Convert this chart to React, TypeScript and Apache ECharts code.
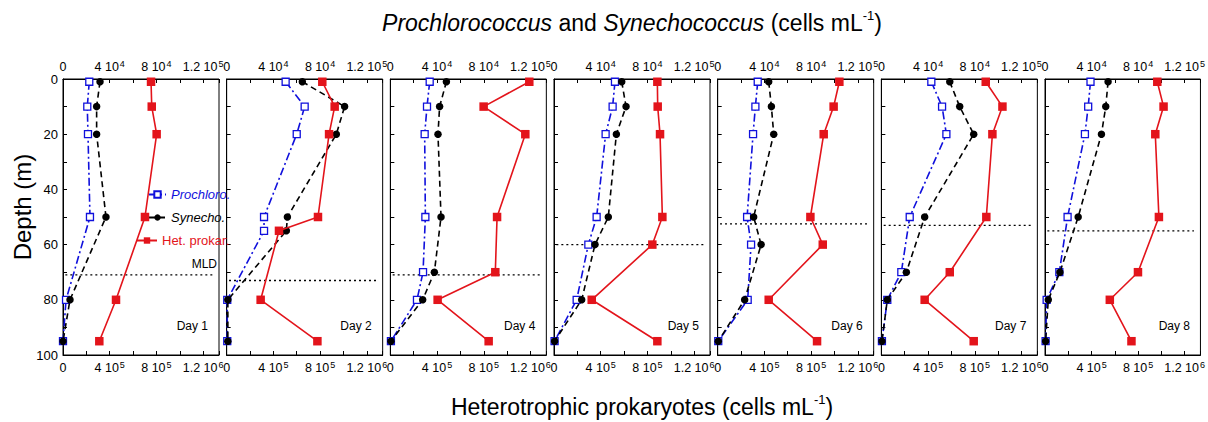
import React, { useEffect, useRef } from 'react';
import * as echarts from 'echarts';

// Panel names
const DAYS = ['Day 1', 'Day 2', 'Day 4', 'Day 5', 'Day 6', 'Day 7', 'Day 8'];

// Sampling depths (m) per day
const DEPTH_D1 = [1, 10, 20, 50, 80, 95];
const DEPTH_D2 = [1, 10, 20, 50, 55, 80, 95];
const DEPTH_D4 = [1, 10, 20, 50, 70, 80, 95];
const DEPTH_D5 = [1, 10, 20, 50, 60, 80, 95];
const DEPTH_D6 = [1, 10, 20, 50, 60, 80, 95];
const DEPTH_D7 = [1, 10, 20, 50, 70, 80, 95];
const DEPTH_D8 = [1, 10, 20, 50, 70, 80, 95];

// Prochlorococcus (x 10^4 cells/mL)
const PRO_D1 = [2.25, 2.08, 2.14, 2.31, 0.26, 0];
const PRO_D2 = [5.05, 6.68, 6.0, 3.2, 3.2, 0.05, 0.05];
const PRO_D4 = [3.37, 3.14, 2.94, 3.0, 2.8, 2.28, 0.05];
const PRO_D5 = [5.22, 5.02, 4.42, 3.65, 2.94, 1.94, 0.05];
const PRO_D6 = [3.43, 3.23, 3.03, 2.52, 2.86, 2.57, 0.05];
const PRO_D7 = [4.28, 5.2, 5.57, 2.43, 1.71, 0.51, 0.05];
const PRO_D8 = [3.91, 3.71, 3.43, 1.94, 1.23, 0.14, 0.05];

// Synechococcus (x 10^4 cells/mL)
const SYN_D1 = [3.17, 2.88, 2.88, 3.68, 0.6, 0];
const SYN_D2 = [6.48, 10.1, 9.39, 5.2, 5.11, 0.1, 0.1];
const SYN_D4 = [4.8, 4.22, 4.08, 4.34, 3.77, 2.77, 0.05];
const SYN_D5 = [5.8, 6.17, 5.34, 4.65, 3.51, 2.37, 0.05];
const SYN_D6 = [4.37, 4.6, 4.8, 3.08, 3.72, 2.31, 0.05];
const SYN_D7 = [5.86, 6.71, 7.91, 3.71, 2.14, 0.51, 0.05];
const SYN_D8 = [5.42, 5.22, 4.85, 2.85, 1.28, 0.28, 0.05];

// Heterotrophic prokaryotes (x 10^5 cells/mL)
const HET_D1 = [7.54, 7.6, 8.02, 7.02, 4.54, 3.11];
const HET_D2 = [8.19, 9.25, 8.77, 7.82, 4.48, 2.91, 7.77];
const HET_D4 = [11.9, 7.99, 11.56, 9.14, 8.99, 4.05, 8.42];
const HET_D5 = [8.85, 8.88, 9.08, 9.28, 8.42, 3.23, 8.85];
const HET_D6 = [10.42, 9.93, 9.08, 7.94, 9.0, 4.37, 8.51];
const HET_D7 = [8.94, 10.37, 9.51, 8.99, 5.86, 3.71, 7.91];
const HET_D8 = [9.65, 10.19, 9.48, 9.79, 7.99, 5.57, 7.43];

// Mixed layer depth (m) per day
const MLD = [71, 73, 71, 60, 52.5, 53, 55];

// Axis tick labels
const TOP_TICK_LABELS: Record<number, string> = { 0: '0', 4: '4 10{sup|4}', 8: '8 10{sup|4}', 12: '1.2 10{sup|5}' };
const BOTTOM_TICK_LABELS: Record<number, string> = { 0: '0', 4: '4 10{sup|5}', 8: '8 10{sup|5}', 12: '1.2 10{sup|6}' };

const DEPTHS = [DEPTH_D1, DEPTH_D2, DEPTH_D4, DEPTH_D5, DEPTH_D6, DEPTH_D7, DEPTH_D8];
const PRO = [PRO_D1, PRO_D2, PRO_D4, PRO_D5, PRO_D6, PRO_D7, PRO_D8];
const SYN = [SYN_D1, SYN_D2, SYN_D4, SYN_D5, SYN_D6, SYN_D7, SYN_D8];
const HET = [HET_D1, HET_D2, HET_D4, HET_D5, HET_D6, HET_D7, HET_D8];

const FONT = 'Liberation Sans, Arial, Helvetica, sans-serif';
const BLUE = '#1010dc';
const RED = '#e3141b';

export default function App() {
  const ref = useRef<HTMLDivElement>(null);
  useEffect(() => {
    document.body.style.margin = '0';
    const chart = echarts.init(ref.current!, undefined, { renderer: 'svg' });
    const n = DAYS.length;
    const gLeft = 63, gStep = 163.67, gW = 156, gTop = 79, gH = 276;
    const XMAX = 13.36;
    const supRich = { sup: { fontSize: 9, verticalAlign: 'top', fontFamily: FONT, color: '#000', padding: [0, 0, 0, 1] } };
    const grids: any[] = [], xAxes: any[] = [], yAxes: any[] = [], series: any[] = [], graphics: any[] = [];
    const commonAxis = {
      axisLine: { show: true, onZero: false, lineStyle: { color: '#000', width: 1 } },
      axisTick: { show: true, inside: true, length: 4, lineStyle: { color: '#000', width: 1 } },
      splitLine: { show: false },
    };
    for (let i = 0; i < n; i++) {
      const left = gLeft + i * gStep;
      grids.push({ left, top: gTop, width: gW, height: gH, show: true, borderColor: '#000', borderWidth: 1, backgroundColor: 'transparent' });
      xAxes.push({
        ...commonAxis, gridIndex: i, type: 'value', position: 'top', min: 0, max: XMAX, interval: 2,
        axisLabel: {
          show: true, margin: 5, fontSize: 12.5, color: '#000', fontFamily: FONT, lineHeight: 15,
          formatter: (v: number) => TOP_TICK_LABELS[Math.round(v * 100) / 100] ?? '', rich: supRich,
        },
      });
      xAxes.push({
        ...commonAxis, gridIndex: i, type: 'value', position: 'bottom', min: 0, max: XMAX, interval: 2,
        axisLabel: {
          show: true, margin: 5, fontSize: 12.5, color: '#000', fontFamily: FONT, lineHeight: 15,
          formatter: (v: number) => BOTTOM_TICK_LABELS[Math.round(v * 100) / 100] ?? '', rich: supRich,
        },
      });
      yAxes.push({
        ...commonAxis, gridIndex: i, type: 'value', inverse: true, min: 0, max: 100, interval: 10,
        axisLabel: {
          show: i === 0, margin: 5, fontSize: 13, color: '#000', fontFamily: FONT,
          formatter: (v: number) => (v % 20 === 0 ? String(v) : ''),
        },
      });
      const d = DEPTHS[i];
      series.push({
        type: 'line', xAxisIndex: 2 * i, yAxisIndex: i, silent: true, symbol: 'none',
        data: [[0.2, MLD[i]], [12.8, MLD[i]]],
        lineStyle: { color: '#000', width: 1.3, type: [2, 3] }, z: 1,
      });
      series.push({
        name: 'Prochloro.', type: 'line', xAxisIndex: 2 * i, yAxisIndex: i, clip: false,
        data: d.map((dep, k) => [PRO[i][k], dep]),
        symbol: 'rect', symbolSize: 7,
        itemStyle: { color: '#fff', borderColor: BLUE, borderWidth: 1.3 },
        lineStyle: { color: BLUE, width: 1.6, type: [8, 3, 2, 3] }, z: 2,
      });
      series.push({
        name: 'Synecho.', type: 'line', xAxisIndex: 2 * i, yAxisIndex: i, clip: false,
        data: d.map((dep, k) => [SYN[i][k], dep]),
        symbol: 'circle', symbolSize: 7.5,
        itemStyle: { color: '#000' },
        lineStyle: { color: '#000', width: 1.6, type: [6, 4] }, z: 3,
      });
      series.push({
        name: 'Het. prokar.', type: 'line', xAxisIndex: 2 * i + 1, yAxisIndex: i, clip: false,
        data: d.map((dep, k) => [HET[i][k], dep]),
        symbol: 'rect', symbolSize: 8.5,
        itemStyle: { color: RED },
        lineStyle: { color: RED, width: 1.6, type: 'solid' }, z: 4,
      });
      graphics.push({
        type: 'text', x: left + gW - 11, y: 326,
        style: { text: DAYS[i], fontSize: 12, fontFamily: FONT, fill: '#000', align: 'right', verticalAlign: 'middle' },
      });
    }
    graphics.push({
      type: 'text', x: 217, y: 264,
      style: { text: 'MLD', fontSize: 12, fontFamily: FONT, fill: '#000', align: 'right', verticalAlign: 'middle' },
    });
    const titleRich = {
      i: { fontStyle: 'italic', fontSize: 23, fontFamily: FONT, fill: '#000', color: '#000' },
      sup: { fontSize: 13, verticalAlign: 'top', fontFamily: FONT, fill: '#000', color: '#000' },
    };
    graphics.push({
      type: 'text', x: 632, y: 23,
      style: {
        text: '{i|Prochlorococcus} and {i|Synechococcus} (cells mL{sup|-1})',
        rich: titleRich, fontSize: 23, fontFamily: FONT, fill: '#000', align: 'center', verticalAlign: 'middle', lineHeight: 28,
      },
    });
    graphics.push({
      type: 'text', x: 642, y: 407,
      style: {
        text: 'Heterotrophic prokaryotes (cells mL{sup|-1})',
        rich: titleRich, fontSize: 23, fontFamily: FONT, fill: '#000', align: 'center', verticalAlign: 'middle', lineHeight: 28,
      },
    });
    graphics.push({
      type: 'text', x: 22, y: 207, rotation: Math.PI / 2,
      style: { text: 'Depth (m)', fontSize: 24, fontFamily: FONT, fill: '#000', align: 'center', verticalAlign: 'middle' },
    });
    const legendBase = { orient: 'vertical', padding: 0, itemGap: 0, selectedMode: false, itemHeight: 8 };
    chart.setOption({
      animation: false,
      backgroundColor: '#fff',
      grid: grids,
      xAxis: xAxes,
      yAxis: yAxes,
      series,
      legend: [
        { ...legendBase, left: 148, top: 188, itemWidth: 17, data: ['Prochloro.'], textStyle: { color: BLUE, fontStyle: 'italic', fontSize: 13, fontFamily: FONT } },
        { ...legendBase, left: 148, top: 211, itemWidth: 17, data: ['Synecho.'], textStyle: { color: '#000', fontStyle: 'italic', fontSize: 13, fontFamily: FONT } },
        { ...legendBase, left: 136, top: 234, itemWidth: 20, data: ['Het. prokar.'], textStyle: { color: RED, fontSize: 13, fontFamily: FONT } },
      ],
      graphic: graphics,
    });
    return () => chart.dispose();
  }, []);
  return <div ref={ref} style={{ width: 1208, height: 422 }} />;
}
